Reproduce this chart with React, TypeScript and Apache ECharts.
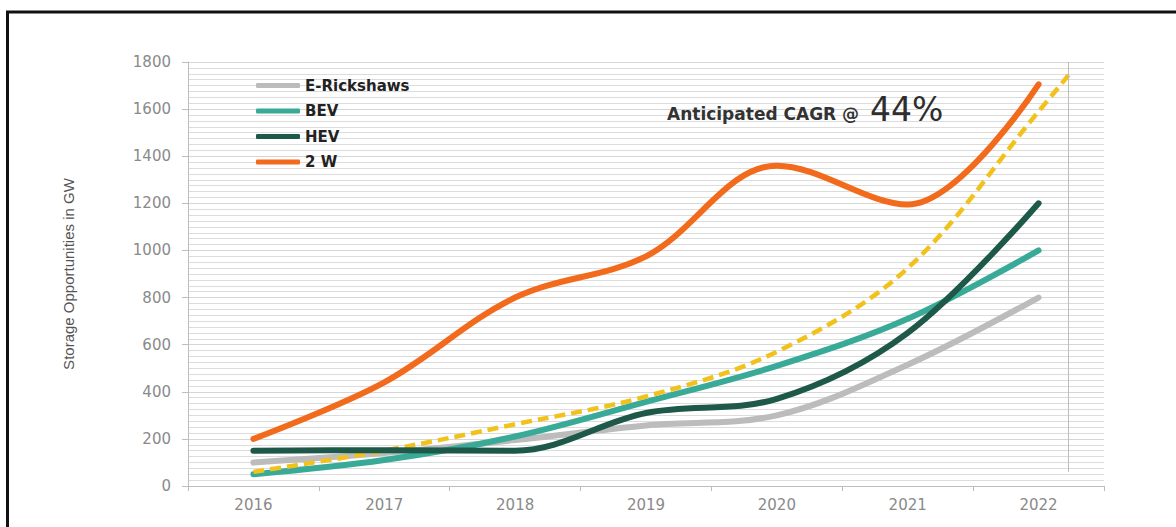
import React, { useEffect, useRef } from "react";
import * as echarts from "echarts";

const years = ["2016", "2017", "2018", "2019", "2020", "2021", "2022"];
const eRickshaws = [100, 140, 195, 257, 300, 515, 800];
const bev = [50, 110, 210, 357, 510, 710, 1000];
const hev = [150, 152, 150, 310, 370, 650, 1200];
const twoW = [200, 440, 800, 975, 1360, 1195, 1705];
// anticipated CAGR trend (x in category index units)
const cagrX = [0, 1, 2, 3, 4, 5, 6, 6.23];
const cagrY = [60, 150, 262, 380, 570, 925, 1590, 1745];
const yTicks = { min: 0, max: 1800, interval: 200 };

export default function App() {
  const ref = useRef<HTMLDivElement>(null);
  useEffect(() => {
    if (!ref.current) return;
    const chart = echarts.init(ref.current, null, { renderer: "svg" });
    const lineSeries = (name: string, data: number[], color: string, z: number) => ({
      name,
      type: "line",
      data,
      xAxisIndex: 0,
      smooth: 0.35,
      symbol: "none",
      z,
      itemStyle: { color },
      lineStyle: { color, width: 6, cap: "round", join: "round" },
    });
    chart.setOption({
      animation: false,
      backgroundColor: "#ffffff",
      grid: { left: 188, right: 72, top: 62, bottom: 41 },
      legend: {
        data: ["E-Rickshaws", "BEV", "HEV", "2 W"],
        orient: "vertical",
        left: 251,
        top: 73,
        icon: "roundRect",
        itemWidth: 44,
        itemHeight: 5,
        itemGap: 10.5,
        textStyle: { color: "#222", fontSize: 15, fontWeight: "bold", fontFamily: "DejaVu Sans" },
      },
      xAxis: [
        {
          type: "category",
          data: years,
          boundaryGap: true,
          axisLine: { lineStyle: { color: "#bdbdbd", width: 1 } },
          axisTick: { show: true, length: 5, lineStyle: { color: "#bdbdbd" } },
          axisLabel: { color: "#8a8a8a", fontSize: 15, fontFamily: "DejaVu Sans", margin: 11 },
          splitLine: { show: false },
        },
        { type: "value", min: -0.5, max: 6.5, show: false, splitLine: { show: false } },
      ],
      yAxis: {
        type: "value",
        min: yTicks.min,
        max: yTicks.max,
        interval: yTicks.interval,
        name: "Storage Opportunities in GW",
        nameLocation: "middle",
        nameGap: 112,
        nameTextStyle: { color: "#555", fontSize: 15, fontFamily: "Liberation Sans" },
        axisLine: { show: true, onZero: false, lineStyle: { color: "#bdbdbd" } },
        axisTick: { show: true, length: 6, lineStyle: { color: "#bdbdbd" } },
        axisLabel: {
          color: "#8a8a8a",
          fontSize: 15,
          fontFamily: "DejaVu Sans",
          margin: 17,
          formatter: (v: number) => String(v),
        },
        splitLine: { show: true, lineStyle: { color: "#d6d6d6", width: 1 } },
        minorTick: { show: false, splitNumber: 8 },
        minorSplitLine: { show: true, lineStyle: { color: "#dcdcdc", width: 1 } },
      },
      series: [
        lineSeries("E-Rickshaws", eRickshaws, "#bcbcbc", 2),
        lineSeries("BEV", bev, "#38aa97", 3),
        {
          name: "CAGR",
          type: "line",
          xAxisIndex: 1,
          data: cagrX.map((x, i) => [x, cagrY[i]]),
          smooth: 0.35,
          symbol: "none",
          z: 4,
          itemStyle: { color: "#f2c21c" },
          lineStyle: { color: "#f2c21c", width: 4.5, type: [11, 6], cap: "butt" },
          markLine: {
            silent: true,
            symbol: ["none", "none"],
            label: { show: false },
            lineStyle: { color: "#bdbdbd", width: 1, type: "solid" },
            data: [[{ coord: [6.23, 1800] }, { coord: [6.23, 60] }]],
          },
        },
        lineSeries("HEV", hev, "#1d5849", 5),
        lineSeries("2 W", twoW, "#f26b1d", 6),
      ],
      graphic: [
        {
          type: "rect",
          silent: true,
          z: 100,
          shape: { x: 7.5, y: 12, width: 1300, height: 700 },
          style: { fill: "none", stroke: "#111", lineWidth: 3 },
        },
        {
          type: "text",
          x: 667,
          y: 114,
          z: 100,
          style: {
            text: "Anticipated CAGR @",
            fontSize: 17,
            fontWeight: "bold",
            fontFamily: "DejaVu Sans",
            fill: "#333",
            verticalAlign: "middle",
            textVerticalAlign: "middle",
          },
        },
        {
          type: "text",
          x: 870,
          y: 109,
          z: 100,
          style: {
            text: "44%",
            fontSize: 33,
            fontFamily: "DejaVu Sans",
            fill: "#2e2e2e",
            verticalAlign: "middle",
            textVerticalAlign: "middle",
          },
        },
      ],
    });
    return () => chart.dispose();
  }, []);
  return (
    <div
      ref={ref}
      style={{ position: "absolute", left: 0, top: 0, width: 1176, height: 527, background: "#fff" }}
    />
  );
}
